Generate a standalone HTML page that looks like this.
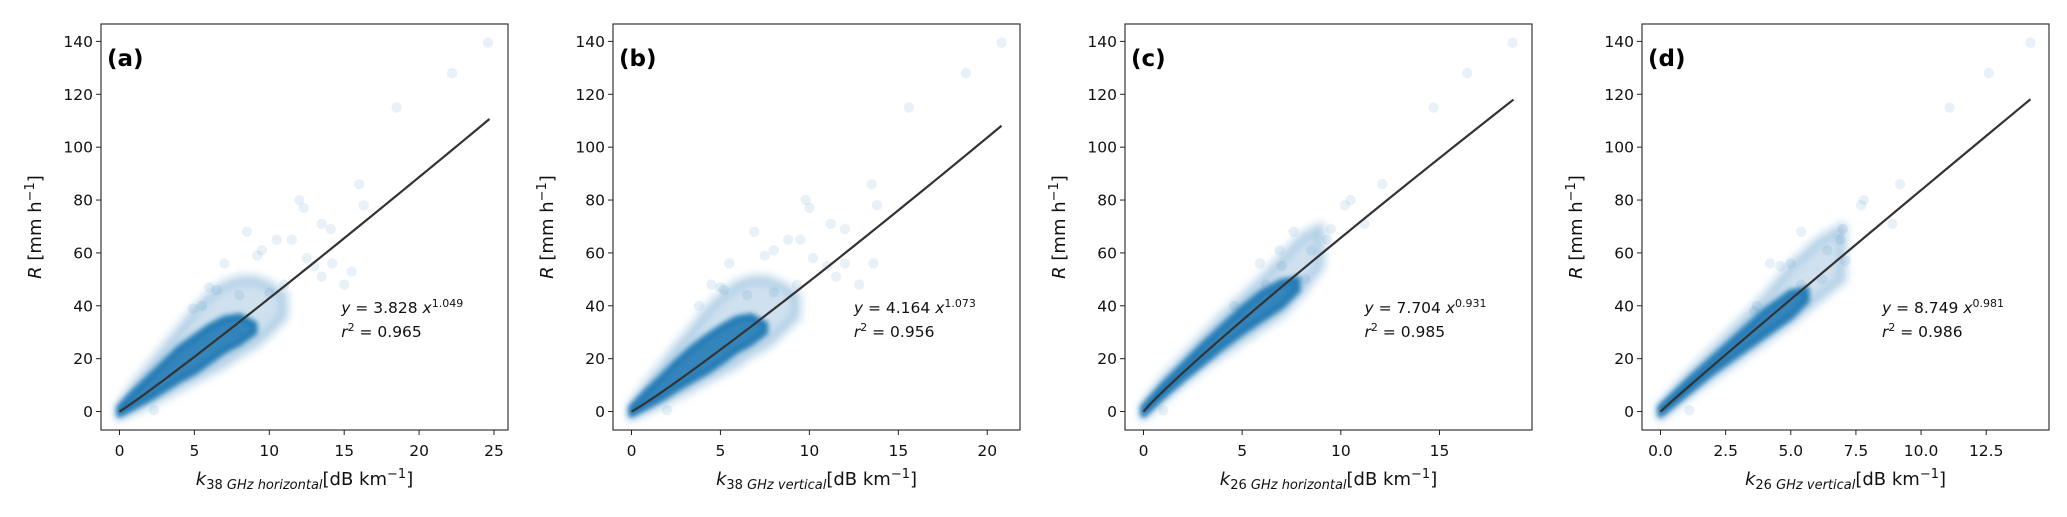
<!DOCTYPE html>
<html><head><meta charset="utf-8">
<style>
html,body{margin:0;padding:0;background:#fff;}
svg{display:block;font-family:"DejaVu Sans","Liberation Sans",sans-serif;}
</style></head>
<body>
<svg id="fig" width="2067" height="517" viewBox="0 0 2067 517">
<defs><filter id="soft" x="-20%" y="-20%" width="140%" height="140%"><feGaussianBlur stdDeviation="4"/></filter>
<filter id="soft2" x="-20%" y="-20%" width="140%" height="140%"><feGaussianBlur stdDeviation="2.5"/></filter></defs>
</svg>
<script>
// ---- data arrays ----
const panelLabels = ["(a)","(b)","(c)","(d)"];
const xLabelSubs = ["38 GHz horizontal","38 GHz vertical","26 GHz horizontal","26 GHz vertical"];
const fitA = [3.828, 4.164, 7.704, 8.749];
const fitB = [1.049, 1.073, 0.931, 0.981];
const fitText = ["3.828","4.164","7.704","8.749"];
const expText = ["1.049","1.073","0.931","0.981"];
const r2Text = ["0.965","0.956","0.985","0.986"];
const xMax = [24.7, 20.8, 18.75, 14.2];
const annX = [14.8, 12.5, 11.2, 8.5];
const xTicksA = [0,5,10,15,20,25];
const xTicksB = [0,5,10,15,20];
const xTicksC = [0,5,10,15];
const xTicksD = [0,2.5,5,7.5,10,12.5];
const xTickLabelsD = ["0.0","2.5","5.0","7.5","10.0","12.5"];
const yTicks = [0,20,40,60,80,100,120,140];
const yMax = 139.6;

// dense core envelopes
const coreXA = [0,1,2,3,4,5,6,7,8,9];
const coreLoA = [-1,2,5,8.5,12,15,19,23,26,30];
const coreHiA = [1.5,7.5,13,18.5,24,28,32,35,36,33];
const haloXA = [0,1,2,3,4,5,6,7,8,9,10,11];
const haloLoA = [-2,0.5,3,6,9,12,15,18,22,25,30,36];
const haloHiA = [2,10,17,24,31,38,44,48,50,50,48,44];

const coreXB = [0,0.85,1.7,2.5,3.4,4.2,5.1,5.9,6.7,7.5];
const coreLoB = [-1,2,5,8.5,12,15,19,23,26,30];
const coreHiB = [1.5,7.5,13,18.5,24,28,32,35,36,33];
const haloXB = [0,0.85,1.7,2.5,3.4,4.2,5.1,5.9,6.7,7.6,8.4,9.3];
const haloLoB = [-2,0.5,3,6,9,12,15,18,22,25,30,36];
const haloHiB = [2,10,17,24,31,38,44,48,50,50,48,44];

const coreXC = [0,1,2,3,4,5,6,7,7.8];
const coreLoC = [-1,6,12.5,18.5,24.5,30,35,40,46];
const coreHiC = [1.5,10,17.5,25,32,39,45,49,50];
const haloXC = [0,1,2,3,4,5,6,7,8,9];
const haloLoC = [-2,5,11,17,22,27,32,37,45,55];
const haloHiC = [2,12,20,28,36,43,50,58,66,70];

const coreXD = [0,1,2,3,4,5,5.6];
const coreLoD = [-1,7,15,22,29,36,42];
const coreHiD = [1.5,11,20,29,38,45,46];
const haloXD = [0,1,2,3,4,5,6,7];
const haloLoD = [-2,6,13,20,27,34,42,50];
const haloHiD = [2,13,23,33,43,55,64,70];

// outlier points
const ptsXA = [24.6,22.2,18.5,16,16.3,12,12.3,13.5,14.1,8.5,10.5,11.5,9.5,13.5,15,15.5,7,6.5,5.5,4.9,9.2,12.5,14.2,11,10,8,7.8,6,13,2.3];
const ptsYA = [139.5,128,115,86,78,80,77,71,69,68,65,65,61,51,48,53,56,46,40,39,59,58,56,48,45,44,30,47,55,0.5];
const ptsXB = [20.8,18.8,15.6,13.5,13.8,9.8,10,11.2,12,6.9,8.8,9.5,8,11.5,12.8,13.6,5.5,5.2,4.5,3.8,7.5,10.2,12,9.3,8,6.5,6.3,5,11,2];
const ptsYB = [139.5,128,115,86,78,80,77,71,69,68,65,65,61,51,48,56,56,46,48,40,59,58,56,48,45,44,30,47,55,0.5];
const ptsXC = [18.7,16.4,14.7,12.1,10.5,10.2,11.2,7.6,9.5,8.5,6.9,5.9,7,6.2,8.2,9.3,5,7.4,4.6,1];
const ptsYC = [139.5,128,115,86,80,78,71,68,69,61,61,56,55,48,50,65,35,47,40,0.5];
const ptsXD = [14.2,12.6,11.1,9.2,7.8,7.7,8.9,5.4,7,6.4,5,4.6,5.4,4.2,6.2,6.9,3.6,7.1,3.7,1.1];
const ptsYD = [139.5,128,115,86,80,78,71,68,69,61,56,55,48,56,50,65,38,57,40,0.5];

const panelLefts = [101, 613, 1125, 1642];
const panelTop = 24, panelW = 407, panelH = 406;

// ---- drawing ----
const NS = "http://www.w3.org/2000/svg";
const svg = document.getElementById("fig");
function mk(tag, attrs, parent){
  const e = document.createElementNS(NS, tag);
  for (const k in attrs) e.setAttribute(k, attrs[k]);
  (parent||svg).appendChild(e);
  return e;
}
const cores = [[coreXA,coreLoA,coreHiA],[coreXB,coreLoB,coreHiB],[coreXC,coreLoC,coreHiC],[coreXD,coreLoD,coreHiD]];
const halos = [[haloXA,haloLoA,haloHiA],[haloXB,haloLoB,haloHiB],[haloXC,haloLoC,haloHiC],[haloXD,haloLoD,haloHiD]];
const pts = [[ptsXA,ptsYA],[ptsXB,ptsYB],[ptsXC,ptsYC],[ptsXD,ptsYD]];
const xTicksAll = [xTicksA,xTicksB,xTicksC,xTicksD];

for (let p=0;p<4;p++){
  const L = panelLefts[p], T = panelTop;
  const xmin = -0.05*xMax[p], xmax = 1.05*xMax[p];
  const ymin = -0.05*yMax, ymax = 1.05*yMax;
  const sx = v => L + (v - xmin)/(xmax - xmin)*panelW;
  const sy = v => T + panelH - (v - ymin)/(ymax - ymin)*panelH;
  const g = mk("g", {});
  
  
  const clipId = "clip"+p;
  const cp = mk("clipPath", {id: clipId}, g);
  mk("rect", {x:L, y:T, width:panelW, height:panelH}, cp);
  const plot = mk("g", {"clip-path":"url(#"+clipId+")"}, g);
  
  

  function band(arr, op, name, filt, sw){
    const [xs, lo, hi] = arr;
    let d = "";
    for (let i=0;i<xs.length;i++) d += (i?"L":"M") + sx(xs[i]).toFixed(1) + "," + sy(hi[i]).toFixed(1);
    for (let i=xs.length-1;i>=0;i--) d += "L" + sx(xs[i]).toFixed(1) + "," + sy(lo[i]).toFixed(1);
    d += "Z";
    const e = mk("path", {d:d, fill:"#1f77b4", "fill-opacity":op, stroke:"#1f77b4", "stroke-opacity":op, "stroke-width":sw, "stroke-linejoin":"round", filter:"url(#"+filt+")"}, plot);
    
    
  }
  band(halos[p], 0.22, "scatter-halo", "soft", 10);
  band(cores[p], 0.88, "scatter-core", "soft2", 7);
  const [px, py] = pts[p];
  for (let i=0;i<px.length;i++){
    const c = mk("circle", {cx:sx(px[i]), cy:sy(py[i]), r:5.2, fill:"#1f77b4", "fill-opacity":0.1}, plot);
    
    
  }
  // fit line
  let d = "";
  const N = 60;
  for (let i=0;i<=N;i++){
    const xv = xMax[p]*i/N;
    const yv = fitA[p]*Math.pow(xv, fitB[p]);
    d += (i?"L":"M") + sx(xv).toFixed(2) + "," + sy(yv).toFixed(2);
  }
  const fl = mk("path", {d:d, fill:"none", stroke:"#333333", "stroke-width":2.2}, g);
  
  
  // frame
  const fr = mk("rect", {x:L, y:T, width:panelW, height:panelH, fill:"none", stroke:"#222", "stroke-width":1.1}, g);
  
  
  // y ticks
  for (const t of yTicks){
    const y = sy(t);
    mk("line", {x1:L-5, x2:L, y1:y, y2:y, stroke:"#222", "stroke-width":1}, g);
    const tx = mk("text", {x:L-8, y:y+5.5, "text-anchor":"end", "font-size":15.5, fill:"#111"}, g);
    tx.textContent = t;
    
    
  }
  // x ticks
  const xt = xTicksAll[p];
  for (let i=0;i<xt.length;i++){
    const x = sx(xt[i]);
    mk("line", {x1:x, x2:x, y1:T+panelH, y2:T+panelH+5, stroke:"#222", "stroke-width":1}, g);
    const tx = mk("text", {x:x, y:T+panelH+26, "text-anchor":"middle", "font-size":15.5, fill:"#111"}, g);
    tx.textContent = p===3 ? xTickLabelsD[i] : xt[i];
    
    
  }
  // y label
  const yl = mk("text", {x:0, y:0, transform:"translate("+(L-60)+","+(T+panelH/2)+") rotate(-90)", "text-anchor":"middle", "font-size":18, fill:"#111"}, g);
  yl.innerHTML = '<tspan font-style="italic">R</tspan> [mm h<tspan baseline-shift="super" font-size="13">−1</tspan>]';
  
  
  // x label
  const xl = mk("text", {x:L+panelW/2, y:485, "text-anchor":"middle", "font-size":18, fill:"#111"}, g);
  xl.innerHTML = '<tspan font-style="italic">k</tspan><tspan font-size="13" dy="4">' + xLabelSubs[p].slice(0,2) + '</tspan>' +
    '<tspan font-size="13" font-style="italic"> ' + xLabelSubs[p].slice(3) + '</tspan><tspan dy="-4">[dB km</tspan><tspan baseline-shift="super" font-size="13">−1</tspan><tspan>]</tspan>';
  
  
  // panel label
  const pl = mk("text", {x:L+6, y:T+42, "font-size":23, "font-weight":"bold", fill:"#000"}, g);
  pl.textContent = panelLabels[p];
  
  
  // annotation
  const ax = sx(annX[p]);
  const a1 = mk("text", {x:ax, y:313, "font-size":15.5, fill:"#111"}, g);
  a1.innerHTML = '<tspan font-style="italic">y</tspan> = ' + fitText[p] + ' <tspan font-style="italic">x</tspan><tspan baseline-shift="super" font-size="11">' + expText[p] + '</tspan>';
  
  
  const a2 = mk("text", {x:ax, y:337, "font-size":15.5, fill:"#111"}, g);
  a2.innerHTML = '<tspan font-style="italic">r</tspan><tspan baseline-shift="super" font-size="11">2</tspan> = ' + r2Text[p];
  
  
}
</script>
</body></html>
